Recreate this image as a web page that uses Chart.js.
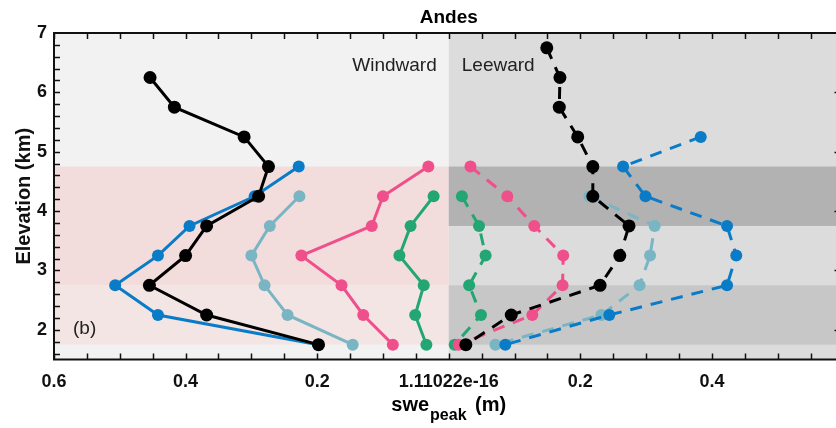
<!DOCTYPE html>
<html>
<head>
<meta charset="utf-8">
<script src="https://cdn.jsdelivr.net/npm/chart.js@4.4.1/dist/chart.umd.min.js"></script>
<style>
  html, body { margin: 0; padding: 0; background: #fff; overflow: hidden; }
  #wrap { width: 850px; height: 428px; }
</style>
</head>
<body>
<div id="wrap"><canvas id="sweChart" width="850" height="428"></canvas></div>
<script>
// Elevation (km) of each band centre
var elevWindBlack = [6.25, 5.75, 5.25, 4.75, 4.25, 3.75, 3.25, 2.75, 2.25, 1.75];
var elevWindBlue = [4.75, 4.25, 3.75, 3.25, 2.75, 2.25, 1.75];
var elevWindLight = [4.25, 3.75, 3.25, 2.75, 2.25, 1.75];
var elevWindPink = [4.75, 4.25, 3.75, 3.25, 2.75, 2.25, 1.75];
var elevWindGreen = [4.25, 3.75, 3.25, 2.75, 2.25, 1.75];

var elevLeeBlack = [6.75, 6.25, 5.75, 5.25, 4.75, 4.25, 3.75, 3.25, 2.75, 2.25, 1.75];
var elevLeeBlue = [5.25, 4.75, 4.25, 3.75, 3.25, 2.75, 2.25, 1.75];
var elevLeeLight = [4.25, 3.75, 3.25, 2.75, 2.25, 1.75];
var elevLeePink = [4.75, 4.25, 3.75, 3.25, 2.75, 2.25, 1.75];
var elevLeeGreen = [4.25, 3.75, 3.25, 2.75, 2.25, 1.75];

// swe peak (m); windward plotted to the left (negative)
var sweWindBlack = [-0.454, -0.417, -0.311, -0.274, -0.289, -0.368, -0.400, -0.455, -0.368, -0.198];
var sweWindBlue = [-0.228, -0.295, -0.394, -0.442, -0.507, -0.442, -0.198];
var sweWindLight = [-0.227, -0.272, -0.300, -0.280, -0.245, -0.146];
var sweWindPink = [-0.031, -0.100, -0.117, -0.224, -0.163, -0.130, -0.085];
var sweWindGreen = [-0.023, -0.058, -0.075, -0.038, -0.051, -0.034];

var sweLeeBlack = [0.149, 0.169, 0.168, 0.196, 0.219, 0.219, 0.274, 0.260, 0.230, 0.095, 0.026];
var sweLeeBlue = [0.383, 0.265, 0.299, 0.423, 0.437, 0.423, 0.244, 0.086];
var sweLeeLight = [0.214, 0.313, 0.306, 0.290, 0.232, 0.071];
var sweLeePink = [0.033, 0.089, 0.130, 0.174, 0.173, 0.127, 0.015];
var sweLeeGreen = [0.020, 0.046, 0.056, 0.031, 0.049, 0.009];

var xTickLabels = ['0.6', '0.4', '0.2', '1.11022e-16', '0.2', '0.4', ''];

// shaded elevation bands [from, to]
var windBands = [[2.75, 4.75], [1.75, 2.75]];
var leeBands = [[3.75, 4.75], [1.75, 2.75]];

var FONT = '"Liberation Sans", Arial, sans-serif';

function pts(xs, ys) {
    return xs.map(function (x, i) { return { x: x, y: ys[i] }; });
}

function series(xs, ys, color, dashed, r) {
    return {
        data: pts(xs, ys),
        borderColor: color,
        backgroundColor: color,
        borderWidth: 3,
        borderDash: dashed ? [12, 9] : [],
        pointRadius: r || 6,
        pointHoverRadius: r || 6,
        pointBorderWidth: 0,
        tension: 0,
        fill: false
    };
}

var cBlack = '#000000', cBlue = '#0a7bc6', cLight = '#7ab5c4', cPink = '#ef4f8b', cGreen = '#23a673';

// first dataset ends up on top
var datasets = [
    series(sweWindBlack, elevWindBlack, cBlack, false, 6.5),
    series(sweLeeBlack, elevLeeBlack, cBlack, true, 6.5),
    series(sweWindBlue, elevWindBlue, cBlue, false),
    series(sweLeeBlue, elevLeeBlue, cBlue, true),
    series(sweWindLight, elevWindLight, cLight, false),
    series(sweLeeLight, elevLeeLight, cLight, true),
    series(sweWindPink, elevWindPink, cPink, false),
    series(sweLeePink, elevLeePink, cPink, true),
    series(sweWindGreen, elevWindGreen, cGreen, false),
    series(sweLeeGreen, elevLeeGreen, cGreen, true)
];

// background shading
var bandsPlugin = {
    id: 'bands',
    beforeDatasetsDraw: function (chart) {
        var ctx = chart.ctx, a = chart.chartArea;
        var xs = chart.scales.x, ys = chart.scales.y;
        var x0 = xs.getPixelForValue(0);
        ctx.save();
        ctx.fillStyle = '#f2f2f2';
        ctx.fillRect(a.left, a.top, x0 - a.left, a.bottom - a.top);
        ctx.fillStyle = '#dcdcdc';
        ctx.fillRect(x0, a.top, a.right - x0, a.bottom - a.top);
        var windCols = ['#f2dddc', '#f3e5e4'];
        var leeCols = ['#b2b2b2', '#c7c7c7'];
        windBands.forEach(function (b, i) {
            var yt = ys.getPixelForValue(b[1]), yb = ys.getPixelForValue(b[0]);
            ctx.fillStyle = windCols[i];
            ctx.fillRect(a.left, yt, x0 - a.left, yb - yt);
        });
        leeBands.forEach(function (b, i) {
            var yt = ys.getPixelForValue(b[1]), yb = ys.getPixelForValue(b[0]);
            ctx.fillStyle = leeCols[i];
            ctx.fillRect(x0, yt, a.right - x0, yb - yt);
        });
        ctx.restore();
    }
};

// axis box, inward ticks and free text
var decoPlugin = {
    id: 'deco',
    afterDatasetsDraw: function (chart) {
        var ctx = chart.ctx, a = chart.chartArea;
        var xs = chart.scales.x, ys = chart.scales.y;
        ctx.save();
        ctx.strokeStyle = '#111';
        ctx.lineWidth = 1.5;
        ctx.beginPath();
        for (var v = -0.6; v <= 0.6001; v += 0.05) {
            var px = Math.round(xs.getPixelForValue(v)) + 0.5;
            ctx.moveTo(px, a.bottom); ctx.lineTo(px, a.bottom - 6);
            ctx.moveTo(px, a.top); ctx.lineTo(px, a.top + 6);
        }
        for (var e = 1.6; e < 7; e += 0.2) {
            var py = Math.round(ys.getPixelForValue(e)) + 0.5;
            ctx.moveTo(a.left, py); ctx.lineTo(a.left + 6, py);
        }
        for (var k = 2; k <= 6; k++) {
            var pk = Math.round(ys.getPixelForValue(k)) + 0.5;
            ctx.moveTo(a.right, pk); ctx.lineTo(a.right - 9, pk);
        }
        ctx.stroke();
        ctx.lineWidth = 2;
        ctx.beginPath();
        ctx.moveTo(a.right, a.top); ctx.lineTo(a.left, a.top);
        ctx.lineTo(a.left, a.bottom); ctx.lineTo(a.right, a.bottom);
        ctx.stroke();

        var x0 = xs.getPixelForValue(0);
        ctx.fillStyle = '#222';
        ctx.textBaseline = 'alphabetic';
        ctx.font = '19px ' + FONT;
        ctx.textAlign = 'right';
        ctx.fillText('Windward', x0 - 12, 71);
        ctx.textAlign = 'left';
        ctx.fillText('Leeward', x0 + 13, 71);
        ctx.fillText('(b)', 73, 334);

        ctx.fillStyle = '#000';
        ctx.font = 'bold 19px ' + FONT;
        ctx.textAlign = 'center';
        ctx.fillText('Andes', (a.left + a.right) / 2, 23);

        // x axis title with subscript
        var f1 = 'bold 20px ' + FONT, f2 = 'bold 16px ' + FONT;
        ctx.font = f1; var w1 = ctx.measureText('swe').width, w3 = ctx.measureText(' (m)').width;
        ctx.font = f2; var w2 = ctx.measureText('peak').width;
        var sx = (a.left + a.right) / 2 - (w1 + w2 + w3 + 4) / 2;
        ctx.textAlign = 'left';
        ctx.font = f1; ctx.fillText('swe', sx, 411);
        ctx.font = f2; ctx.fillText('peak', sx + w1 + 1, 420);
        ctx.font = f1; ctx.fillText(' (m)', sx + w1 + w2 + 4, 411);
        ctx.restore();
    }
};

var ctx = document.getElementById('sweChart').getContext('2d');

var sweChart = new Chart(ctx, {
    type: 'line',
    data: { datasets: datasets },
    options: {
        responsive: false,
        animation: false,
        layout: { padding: { top: 33, right: 6, left: 0, bottom: 0 } },
        plugins: { legend: { display: false }, tooltip: { enabled: false } },
        scales: {
            x: {
                type: 'linear',
                min: -0.6,
                max: 0.6,
                border: { display: false },
                grid: { display: false, drawTicks: true, tickLength: 12 },
                afterFit: function (s) { s.height = 68.5; },
                ticks: {
                    stepSize: 0.2,
                    autoSkip: false,
                    maxRotation: 0,
                    padding: 0,
                    color: '#111',
                    font: { family: FONT, size: 18, weight: 'bold' },
                    callback: function (v, i) { return xTickLabels[i]; }
                }
            },
            y: {
                type: 'linear',
                min: 1.5,
                max: 7,
                border: { display: false },
                grid: { display: false, drawTicks: false },
                afterFit: function (s) { s.width = 54; },
                title: {
                    display: true,
                    text: 'Elevation (km)',
                    color: '#111',
                    padding: { top: 12 },
                    font: { family: FONT, size: 20, weight: 'bold' }
                },
                ticks: {
                    stepSize: 1,
                    padding: 7,
                    color: '#111',
                    font: { family: FONT, size: 18, weight: 'bold' },
                    callback: function (v) { return Number.isInteger(v) ? String(v) : ''; }
                }
            }
        }
    },
    plugins: [bandsPlugin, decoPlugin]
});
</script>
</body>
</html>
